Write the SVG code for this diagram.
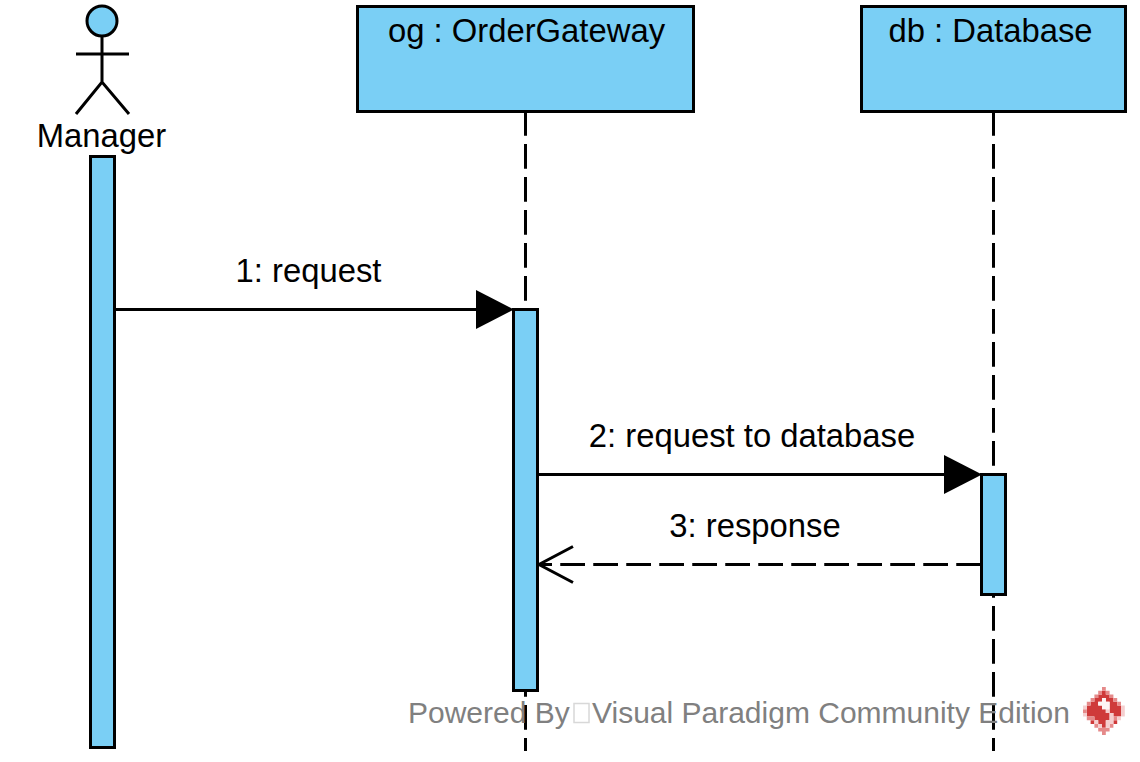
<svg xmlns="http://www.w3.org/2000/svg" width="1140" height="762" viewBox="0 0 1140 762">
<style>
.s{stroke:#000;stroke-width:3;fill:none}
.b{stroke:#000;stroke-width:3;fill:#7acff5}
.d{stroke:#000;stroke-width:3;fill:none;stroke-dasharray:24.75 8.25}
.t{font-family:"Liberation Sans",Arial,sans-serif;font-size:32.8px;fill:#000}
.w{font-family:"Liberation Sans",Arial,sans-serif;font-size:30px;fill:#808080}
</style>
<rect width="1140" height="762" fill="#fff"/>
<g id="lifelines">
<path class="d" d="M525.500 111V751"/>
<path class="d" d="M993.500 111V751"/>
</g>
<g id="manager">
<circle class="b" cx="102" cy="21" r="15"/>
<path class="s" d="M102 36V82M76 54H129M76 114L102 82L129 114"/>
<text class="t" x="101.500" y="147" text-anchor="middle">Manager</text>
<rect class="b" x="90.500" y="156.500" width="24" height="591"/>
</g>
<g id="og">
<rect class="b" x="357.500" y="6.500" width="336" height="105"/>
<text class="t" x="526.500" y="42" text-anchor="middle">og : OrderGateway</text>
<rect class="b" x="513.500" y="309.500" width="24" height="381"/>
</g>
<g id="db">
<rect class="b" x="861.500" y="6.500" width="264" height="105"/>
<text class="t" x="990.500" y="42" text-anchor="middle">db : Database</text>
<rect class="b" x="981.500" y="474.500" width="24" height="120"/>
</g>
<g id="connectors">
<path class="s" d="M115 309.500H480"/>
<path d="M476 290L514 309.500L476 329Z" fill="#000"/>
<path class="s" d="M538 474.500H948"/>
<path d="M944 455L982 474.500L944 494Z" fill="#000"/>
<path class="d" d="M981 564.500H538"/>
<path class="s" d="M573 546.500L539 564.500L573 582.500"/>
</g>
<g id="labels">
<text class="t" x="308.500" y="282" text-anchor="middle">1: request</text>
<text class="t" x="752" y="447" text-anchor="middle">2: request to database</text>
<text class="t" x="755" y="537" text-anchor="middle">3: response</text>
</g>
<g id="watermark">
<text class="w" x="408" y="723">Powered By</text>
<rect x="574" y="703.500" width="15" height="19" fill="none" stroke="#d8d8d8" stroke-width="1.500"/>
<text class="w" x="592" y="723">Visual Paradigm Community Edition</text>
<g transform="translate(1083 687) scale(3.800 3.700)">
<path fill="#cf3a3a" d="M5 1h1v1h-1zM4 2h3v1h-3zM3 3h2v1h-2zM6 3h2v1h-2zM2 4h2v1h-2zM7 4h2v1h-2zM1 5h4v1h-4zM7 5h3v1h-3zM1 6h5v1h-5zM7 6h3v1h-3zM1 7h6v1h-6zM8 7h2v1h-2zM3 8h4v1h-4zM2 9h1v1h-1zM4 9h2v1h-2zM8 9h1v1h-1zM5 10h1v1h-1z"/>
<path fill="#e58a8a" d="M5 0h1v1h-1zM4 1h1v1h-1zM6 1h1v1h-1zM3 2h1v1h-1zM7 2h1v1h-1zM2 3h1v1h-1zM8 3h1v1h-1zM1 4h1v1h-1zM9 4h1v1h-1zM0 6h1v1h-1zM1 8h2v1h-2zM8 8h1v1h-1zM4 11h3v1h-3zM5 12h1v1h-1zM3 10h1v1h-1zM7 10h1v1h-1z"/>
<path fill="#f5cfcf" d="M0 5h1v1h-1zM10 5h1v1h-1zM6 6h1v1h-1zM10 6h1v1h-1zM0 7h1v1h-1zM7 7h1v1h-1zM10 7h1v1h-1zM7 8h1v1h-1zM9 8h1v1h-1zM3 9h1v1h-1zM6 9h2v1h-2zM4 10h1v1h-1zM6 10h1v1h-1z"/>
<path fill="#fdf5f5" d="M5 3h1v1h-1zM4 4h3v1h-3zM5 5h2v1h-2z"/>
</g>
</g>
</svg>
